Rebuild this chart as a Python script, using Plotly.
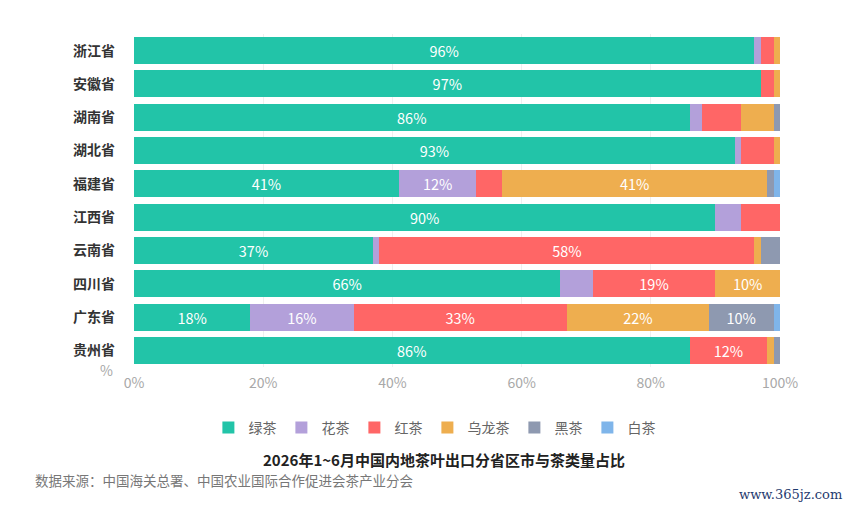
import plotly.graph_objects as go

# 省份（自上而下）
provinces = ["浙江省", "安徽省", "湖南省", "湖北省", "福建省",
             "江西省", "云南省", "四川省", "广东省", "贵州省"]

# 各茶类占比 (%)，按省份顺序
green_tea = [96, 97, 86, 93, 41, 90, 37, 66, 18, 86]
flower_tea = [1, 0, 2, 1, 12, 4, 1, 5, 16, 0]
black_tea = [2, 2, 6, 5, 4, 6, 58, 19, 33, 12]      # 红茶
oolong_tea = [1, 1, 5, 1, 41, 0, 1, 10, 22, 1]
dark_tea = [0, 0, 1, 0, 1, 0, 3, 0, 10, 1]          # 黑茶
white_tea = [0, 0, 0, 0, 1, 0, 0, 0, 1, 0]

series = [
    ("绿茶", green_tea, "#22c4a8"),
    ("花茶", flower_tea, "#b3a0da"),
    ("红茶", black_tea, "#ff6666"),
    ("乌龙茶", oolong_tea, "#eeae4f"),
    ("黑茶", dark_tea, "#8e99b0"),
    ("白茶", white_tea, "#7fb5ea"),
]

x_ticks = [0, 20, 40, 60, 80, 100]
x_tick_labels = ["0%", "20%", "40%", "60%", "80%", "100%"]

fig = go.Figure()
for name, vals, color in series:
    labels = [f"{v}%" if v >= 10 else "" for v in vals]
    fig.add_trace(go.Bar(
        name=name, y=provinces, x=vals, orientation="h",
        marker=dict(color=color, line=dict(width=0)),
        text=labels, textposition="inside", insidetextanchor="middle",
        textfont=dict(color="white", size=14.5, family="Noto Sans CJK SC"),
        hoverinfo="name+x",
    ))

# 页面 body 自带 8px 边距，尺寸按此收一点
fig.update_layout(
    barmode="stack",
    bargap=0.19,
    width=838, height=497,
    margin=dict(l=126, r=66, t=26, b=138),
    paper_bgcolor="white", plot_bgcolor="white",
    font=dict(family="Noto Sans CJK SC", color="#666"),
    legend=dict(
        orientation="h", x=0.465, xanchor="center", y=-0.183, yanchor="middle",
        font=dict(size=14, color="#666"), itemwidth=30, traceorder="normal",
    ),
    uniformtext=dict(mode="show", minsize=10),
    xaxis=dict(
        range=[0, 100], tickvals=x_ticks, ticktext=x_tick_labels,
        showgrid=True, gridcolor="#efefef", zeroline=False,
        tickfont=dict(size=14, color="#a8a8a8"), ticks="", ticklabelstandoff=6,
        fixedrange=True,
    ),
    yaxis=dict(
        autorange="reversed", showgrid=False,
        tickfont=dict(size=14, color="#333", family="Noto Sans CJK SC", weight="bold"),
        ticks="", ticklabelstandoff=18,
    ),
    annotations=[
        dict(text="%", xref="paper", yref="paper", x=0, y=0, xshift=-19, yshift=-3,
             xanchor="right", yanchor="middle", showarrow=False,
             font=dict(size=14, color="#a8a8a8")),
        dict(text="<b>2026年1~6月中国内地茶叶出口分省区市与茶类量占比</b>",
             xref="paper", yref="paper", x=0.48, y=0, yshift=-92,
             xanchor="center", yanchor="middle", showarrow=False,
             font=dict(size=15, color="#222")),
        dict(text="数据来源：中国海关总署、中国农业国际合作促进会茶产业分会",
             xref="paper", yref="paper", x=0, y=0, xshift=-101, yshift=-113,
             xanchor="left", yanchor="middle", showarrow=False,
             font=dict(size=13.5, color="#777")),
        dict(text="www.365jz.com", xref="paper", yref="paper", x=1, y=0,
             xshift=64, yshift=-127, xanchor="right", yanchor="middle", showarrow=False,
             font=dict(size=13, color="#1f3a6e", family="DejaVu Serif")),
    ],
)

fig.write_html("out.html")
